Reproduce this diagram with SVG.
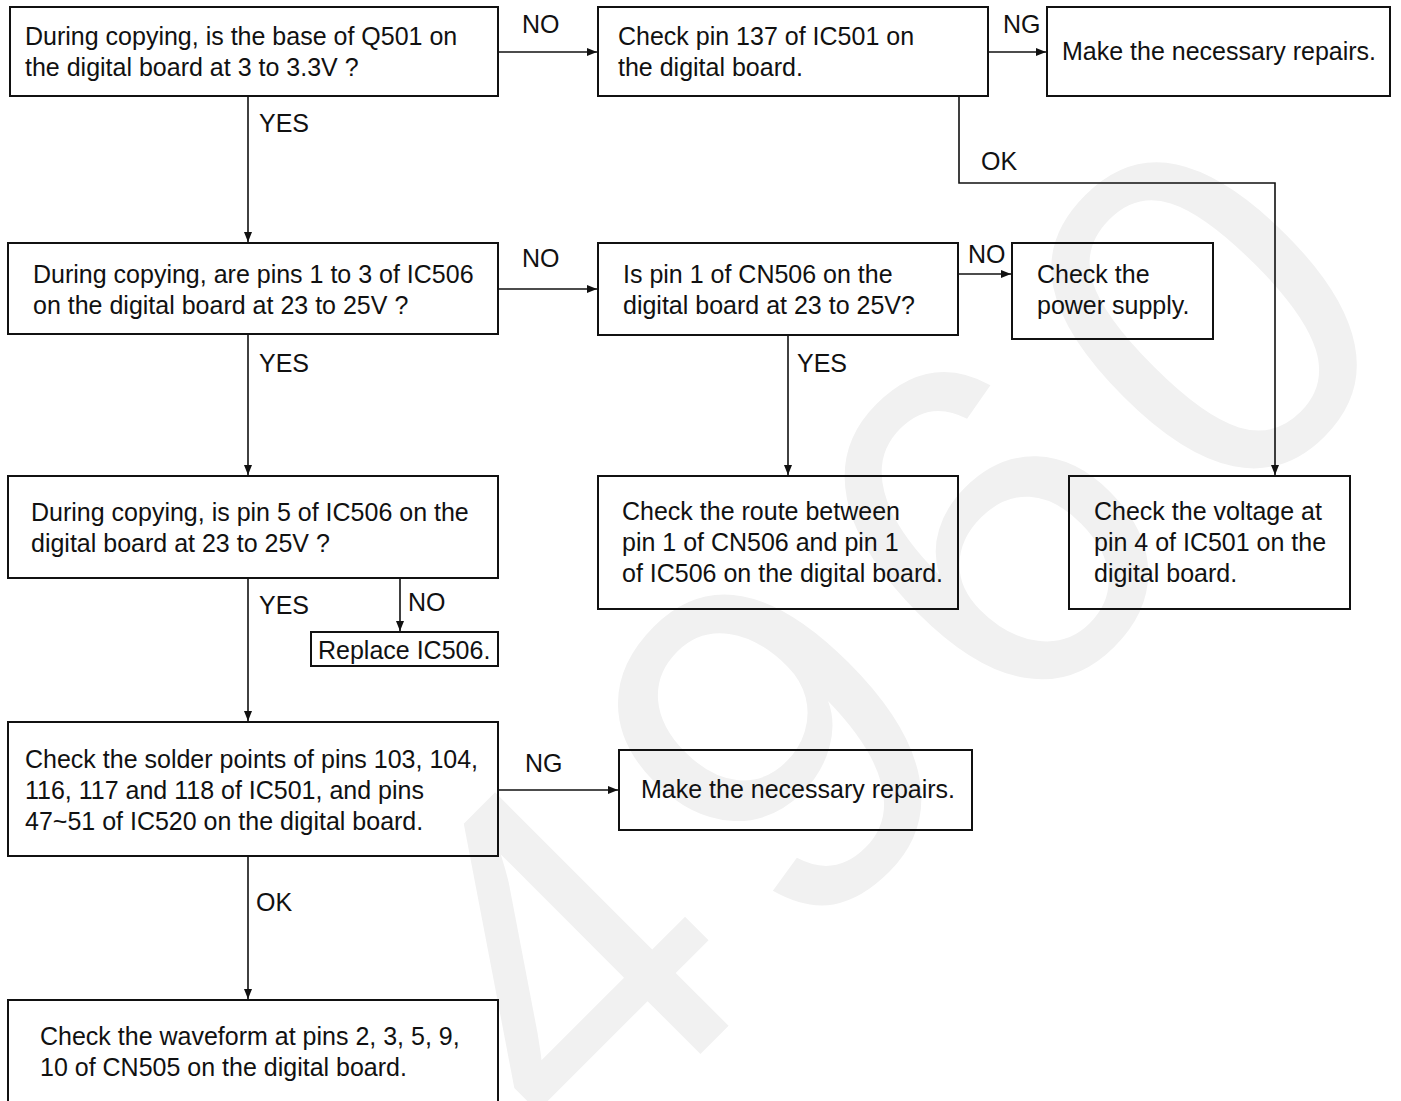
<svg xmlns="http://www.w3.org/2000/svg" width="1401" height="1101" viewBox="0 0 1401 1101">
  <defs>
    <style>
      text { font-family: "Liberation Sans", Arial, Helvetica, sans-serif; font-size: 25px; fill: #111; }
      .box { fill: none; stroke: #111; stroke-width: 2; }
      .wire { fill: none; stroke: #111; stroke-width: 1.6; }
      .mark { font-size: 480px; letter-spacing: 37px; fill: #f1f1f1; }
    </style>
    <marker id="arrow" viewBox="0 0 10 8" refX="10" refY="4" markerWidth="10" markerHeight="8" markerUnits="userSpaceOnUse" orient="auto">
      <path d="M0,0 L10,4 L0,8 z" fill="#111"/>
    </marker>
  </defs>

  <rect x="0" y="0" width="1401" height="1101" fill="#ffffff"/>

  <!-- background watermark -->
  <g id="watermark">
    <text class="mark" x="18" y="0" text-anchor="middle" dominant-baseline="central" transform="translate(882,637) rotate(-45)">4960</text>
  </g>

  <!-- connectors -->
  <g id="connectors">
    <path class="wire" d="M498,52 H597" marker-end="url(#arrow)"/>
    <path class="wire" d="M988,52 H1046" marker-end="url(#arrow)"/>
    <path class="wire" d="M959,96 V183 H1275 V475" marker-end="url(#arrow)"/>
    <path class="wire" d="M248,96 V242" marker-end="url(#arrow)"/>
    <path class="wire" d="M498,289 H597" marker-end="url(#arrow)"/>
    <path class="wire" d="M958,274 H1011" marker-end="url(#arrow)"/>
    <path class="wire" d="M788,335 V475" marker-end="url(#arrow)"/>
    <path class="wire" d="M248,334 V475" marker-end="url(#arrow)"/>
    <path class="wire" d="M248,578 V721" marker-end="url(#arrow)"/>
    <path class="wire" d="M400,578 V631" marker-end="url(#arrow)"/>
    <path class="wire" d="M498,790 H618" marker-end="url(#arrow)"/>
    <path class="wire" d="M248,856 V999" marker-end="url(#arrow)"/>

    <text x="522" y="33">NO</text>
    <text x="1003" y="33">NG</text>
    <text x="981" y="170">OK</text>
    <text x="259" y="132">YES</text>
    <text x="522" y="267">NO</text>
    <text x="968" y="263">NO</text>
    <text x="797" y="372">YES</text>
    <text x="259" y="372">YES</text>
    <text x="259" y="614">YES</text>
    <text x="408" y="611">NO</text>
    <text x="525" y="772">NG</text>
    <text x="256" y="911">OK</text>
  </g>

  <g id="q501-base">
    <rect class="box" x="10" y="7" width="488" height="89"/>
    <text x="25" y="45">During copying, is the base of Q501 on</text>
    <text x="25" y="76">the digital board at 3 to 3.3V ?</text>
  </g>

  <g id="ic501-pin137">
    <rect class="box" x="598" y="7" width="390" height="89"/>
    <text x="618" y="45">Check pin 137 of IC501 on</text>
    <text x="618" y="76">the digital board.</text>
  </g>

  <g id="repair-top">
    <rect class="box" x="1047" y="7" width="343" height="89"/>
    <text x="1062" y="60">Make the necessary repairs.</text>
  </g>

  <g id="ic506-pins1-3">
    <rect class="box" x="8" y="243" width="490" height="91"/>
    <text x="33" y="283">During copying, are pins 1 to 3 of IC506</text>
    <text x="33" y="314">on the digital board at 23 to 25V ?</text>
  </g>

  <g id="cn506-pin1">
    <rect class="box" x="598" y="243" width="360" height="92"/>
    <text x="623" y="283">Is pin 1 of CN506 on the</text>
    <text x="623" y="314">digital board at 23 to 25V?</text>
  </g>

  <g id="power-supply">
    <rect class="box" x="1012" y="243" width="201" height="96"/>
    <text x="1037" y="283">Check the</text>
    <text x="1037" y="314">power supply.</text>
  </g>

  <g id="ic506-pin5">
    <rect class="box" x="8" y="476" width="490" height="102"/>
    <text x="31" y="521">During copying, is pin 5 of IC506 on the</text>
    <text x="31" y="552">digital board at 23 to 25V ?</text>
  </g>

  <g id="route-check">
    <rect class="box" x="598" y="476" width="360" height="133"/>
    <text x="622" y="520">Check the route between</text>
    <text x="622" y="551">pin 1 of CN506 and pin 1</text>
    <text x="622" y="582">of IC506 on the digital board.</text>
  </g>

  <g id="ic501-pin4">
    <rect class="box" x="1069" y="476" width="281" height="133"/>
    <text x="1094" y="520">Check the voltage at</text>
    <text x="1094" y="551">pin 4 of IC501 on the</text>
    <text x="1094" y="582">digital board.</text>
  </g>

  <g id="replace-ic506">
    <rect class="box" x="311" y="632" width="187" height="34"/>
    <text x="318" y="659">Replace IC506.</text>
  </g>

  <g id="solder-points">
    <rect class="box" x="8" y="722" width="490" height="134"/>
    <text x="25" y="768">Check the solder points of pins 103, 104,</text>
    <text x="25" y="799">116, 117 and 118 of IC501, and pins</text>
    <text x="25" y="830">47~51 of IC520 on the digital board.</text>
  </g>

  <g id="repair-bottom">
    <rect class="box" x="619" y="750" width="353" height="80"/>
    <text x="641" y="798">Make the necessary repairs.</text>
  </g>

  <g id="cn505-waveform">
    <rect class="box" x="8" y="1000" width="490" height="120"/>
    <text x="40" y="1045">Check the waveform at pins 2, 3, 5, 9,</text>
    <text x="40" y="1076">10 of CN505 on the digital board.</text>
  </g>
</svg>
